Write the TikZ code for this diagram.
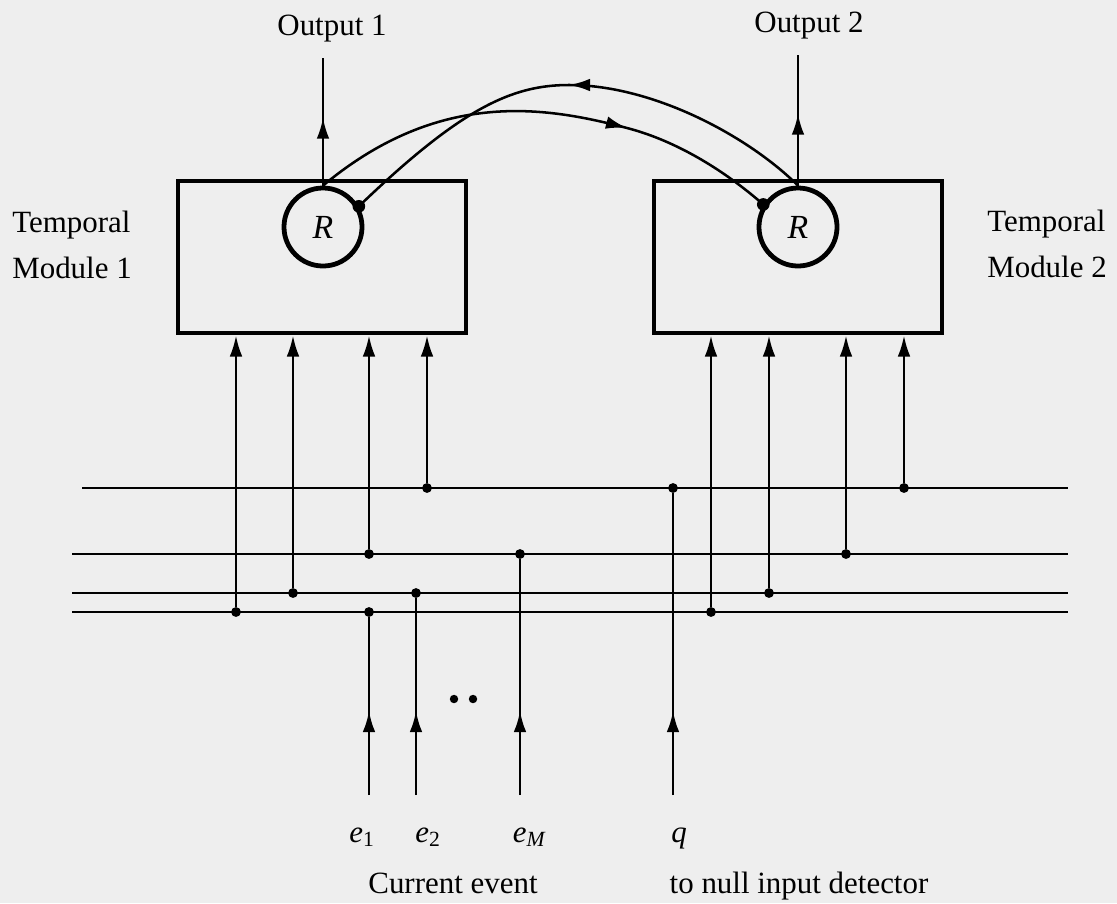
\documentclass[tikz,border=0pt]{standalone}
\usepackage{fontspec}
\setmainfont{Liberation Serif}
\usetikzlibrary{arrows.meta,decorations.markings}
\definecolor{paper}{RGB}{238,238,238}
\tikzset{
  module/.style={draw, line width=3.4pt, minimum width=7.2cm, minimum height=3.8cm},
  rnode/.style={draw, circle, line width=3.4pt, minimum size=1.95cm, inner sep=0pt,
    font=\fontsize{24}{28}\selectfont\itshape},
  wire/.style={line width=1.8pt},
  into/.style={wire, -{Latex[length=15pt,width=9pt]}},
  midarrow/.style={wire, postaction={decorate},
    decoration={markings, mark=at position #1 with {\arrow{Latex[length=15pt,width=9pt]}}}},
  junction/.style={circle, fill, inner sep=0pt, minimum size=7pt},
  synapse/.style={circle, fill, inner sep=0pt, minimum size=9pt},
  txt/.style={inner sep=0pt, font=\fontsize{22}{32.5}\selectfont}
}
\begin{document}
\begin{tikzpicture}[x=0.025cm, y=-0.025cm]
  \fill[paper] (0,0) rectangle (1117,903);
  % the two temporal modules
  \node[module] (mod1) at (322,257) {};
  \node[module] (mod2) at (798,257) {};
  \node[rnode] (r1) at (323,227) {R};
  \node[rnode] (r2) at (798,227) {R};
  \node[txt, anchor=west, align=left] (name1) at (12,245) {Temporal\\Module 1};
  \node[txt, anchor=west, align=left] (name2) at (987,244) {Temporal\\Module 2};
  % outputs
  \node[txt, anchor=base] (out1) at (332,35) {Output 1};
  \node[txt, anchor=base] (out2) at (809,32) {Output 2};
  \coordinate (o1) at (323,58);
  \coordinate (o2) at (798,55);
  \draw[midarrow=1.7cm] (r1.north) -- (o1);
  \draw[midarrow=1.8cm] (r2.north) -- (o2);
  % cross connections between the R units
  \node[synapse] (syn1) at (r1.30) {};
  \node[synapse] (syn2) at (r2.147) {};
  \coordinate (peakA) at (627,128);
  \coordinate (peakB) at (569,85);
  \draw[wire] (r1.north) .. controls (440,88) and (547,107) .. (peakA)
    .. controls (677,141) and (725,171) .. (syn2.center);
  \path[midarrow=1] (r1.north) .. controls (440,88) and (547,107) .. (peakA);
  \draw[wire] (r2.north) .. controls (748,136) and (653,85) .. (peakB)
    .. controls (513,85) and (462,107) .. (syn1.center);
  \path[midarrow=1] (r2.north) .. controls (748,136) and (653,85) .. (peakB);
  % input lines
  \coordinate (q-w) at (82,488);  \coordinate (q-e) at (1068,488);
  \coordinate (m-w) at (72,554);  \coordinate (m-e) at (1068,554);
  \coordinate (b-w) at (72,593);  \coordinate (b-e) at (1068,593);
  \coordinate (a-w) at (72,612);  \coordinate (a-e) at (1068,612);
  \draw[wire] (q-w) -- (q-e);
  \draw[wire] (m-w) -- (m-e);
  \draw[wire] (b-w) -- (b-e);
  \draw[wire] (a-w) -- (a-e);
  \foreach \x/\y in {236/612, 293/593, 369/554, 427/488} {
    \node[junction] (a\x) at (\x,\y) {};
    \draw[into] (a\x) -- (a\x |- mod1.south);
  }
  \foreach \x/\y in {711/612, 769/593, 846/554, 904/488} {
    \node[junction] (c\x) at (\x,\y) {};
    \draw[into] (c\x) -- (c\x |- mod2.south);
  }
  \foreach \x/\y in {369/612, 416/593, 520/554, 673/488} {
    \coordinate (s\x) at (\x,795);
    \node[junction] (t\x) at (\x,\y) {};
    \draw[midarrow=2.1cm] (s\x) -- (t\x);
  }
  \node[junction, minimum size=6pt] (dot1) at (454,699) {};
  \node[junction, minimum size=6pt] (dot2) at (473,699) {};
  % labels
  \node[txt, anchor=base] (e1) at (362,842) {\itshape e\textsubscript{\upshape 1}};
  \node[txt, anchor=base] (e2) at (428,842) {\itshape e\textsubscript{\upshape 2}};
  \node[txt, anchor=base] (eM) at (529,842) {\itshape e\textsubscript{M}};
  \node[txt, anchor=base] (q) at (679,842) {\itshape q};
  \node[txt, anchor=base] (cur) at (453,893) {Current event};
  \node[txt, anchor=base] (nul) at (799,893) {to null input detector};
\end{tikzpicture}
\end{document}
